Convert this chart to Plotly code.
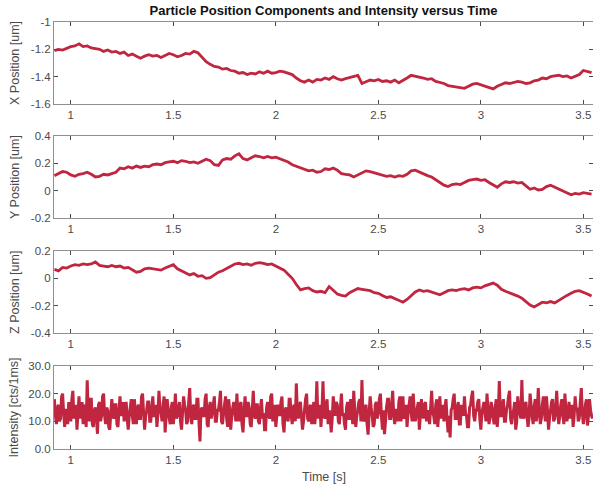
import plotly.graph_objects as go

# ---------------- data ----------------
T0_POS = 0.92
DT_POS = 0.02
x_pos = [-1.21, -1.20, -1.205, -1.19, -1.18, -1.175, -1.16, -1.18, -1.175, -1.19,
         -1.195, -1.20, -1.215, -1.205, -1.22, -1.215, -1.23, -1.22, -1.245, -1.235,
         -1.25, -1.265, -1.25, -1.24, -1.25, -1.245, -1.26, -1.245, -1.23, -1.24,
         -1.255, -1.245, -1.23, -1.235, -1.215, -1.225, -1.26, -1.29, -1.31, -1.325,
         -1.33, -1.345, -1.34, -1.355, -1.36, -1.375, -1.37, -1.385, -1.375, -1.38,
         -1.365, -1.375, -1.36, -1.375, -1.37, -1.36, -1.365, -1.375, -1.385, -1.41,
         -1.43, -1.44, -1.425, -1.44, -1.42, -1.425, -1.41, -1.42, -1.40, -1.415,
         -1.425, -1.415, -1.405, -1.395, -1.39, -1.45, -1.435, -1.425, -1.43, -1.42,
         -1.435, -1.43, -1.44, -1.425, -1.445, -1.43, -1.41, -1.39, -1.395, -1.40,
         -1.41, -1.42, -1.415, -1.435, -1.44, -1.45, -1.465, -1.47, -1.475, -1.48,
         -1.485, -1.47, -1.455, -1.45, -1.46, -1.465, -1.475, -1.49, -1.47, -1.455,
         -1.445, -1.45, -1.44, -1.435, -1.44, -1.45, -1.445, -1.43, -1.425, -1.41,
         -1.415, -1.40, -1.395, -1.39, -1.40, -1.395, -1.41, -1.40, -1.385, -1.355,
         -1.36, -1.37]

y_pos = [0.11, 0.125, 0.14, 0.135, 0.115, 0.105, 0.12, 0.125, 0.135, 0.12,
         0.10, 0.105, 0.12, 0.115, 0.125, 0.135, 0.165, 0.16, 0.175, 0.165,
         0.18, 0.17, 0.18, 0.175, 0.19, 0.195, 0.19, 0.205, 0.21, 0.215,
         0.205, 0.22, 0.215, 0.205, 0.21, 0.20, 0.215, 0.23, 0.22, 0.19,
         0.185, 0.225, 0.235, 0.23, 0.255, 0.27, 0.235, 0.225, 0.24, 0.255,
         0.25, 0.24, 0.25, 0.24, 0.245, 0.235, 0.225, 0.21, 0.19, 0.18,
         0.165, 0.155, 0.145, 0.15, 0.135, 0.14, 0.16, 0.155, 0.165, 0.15,
         0.125, 0.12, 0.115, 0.10, 0.115, 0.13, 0.145, 0.14, 0.13, 0.125,
         0.115, 0.105, 0.11, 0.10, 0.11, 0.105, 0.12, 0.145, 0.15, 0.135,
         0.12, 0.11, 0.10, 0.08, 0.065, 0.04, 0.03, 0.045, 0.05, 0.045,
         0.06, 0.075, 0.08, 0.085, 0.075, 0.08, 0.06, 0.045, 0.025, 0.05,
         0.065, 0.06, 0.065, 0.055, 0.06, 0.035, 0.01, 0.02, 0.005, 0.01,
         0.03, 0.04, 0.025, 0.01, 0.0, -0.015, -0.03, -0.02, -0.025, -0.015,
         -0.02, -0.025]

z_pos = [0.065, 0.055, 0.08, 0.075, 0.09, 0.10, 0.095, 0.105, 0.10, 0.105,
         0.12, 0.095, 0.09, 0.085, 0.095, 0.085, 0.09, 0.075, 0.08, 0.06,
         0.045, 0.05, 0.07, 0.075, 0.07, 0.065, 0.06, 0.075, 0.09, 0.10,
         0.07, 0.055, 0.04, 0.025, 0.035, 0.015, 0.02, 0.0, 0.005, 0.025,
         0.045, 0.055, 0.07, 0.09, 0.105, 0.11, 0.10, 0.105, 0.095, 0.11,
         0.115, 0.11, 0.10, 0.105, 0.09, 0.075, 0.06, 0.03, 0.0, -0.045,
         -0.085, -0.075, -0.07, -0.09, -0.10, -0.095, -0.105, -0.06, -0.09, -0.115,
         -0.125, -0.13, -0.105, -0.09, -0.075, -0.08, -0.085, -0.09, -0.105, -0.11,
         -0.125, -0.14, -0.135, -0.15, -0.16, -0.175, -0.155, -0.13, -0.10, -0.085,
         -0.095, -0.09, -0.10, -0.11, -0.12, -0.105, -0.09, -0.085, -0.09, -0.08,
         -0.075, -0.085, -0.07, -0.065, -0.07, -0.055, -0.045, -0.035, -0.05, -0.08,
         -0.095, -0.105, -0.12, -0.13, -0.145, -0.17, -0.195, -0.21, -0.19, -0.175,
         -0.18, -0.17, -0.18, -0.16, -0.14, -0.125, -0.11, -0.095, -0.09, -0.10,
         -0.115, -0.13]

T0_INT = 0.92
DT_INT = 0.005
intensity = [
    18, 12, 9, 15, 16, 10, 11, 19, 20, 13, 8, 14, 14, 9, 17, 12, 10, 18, 21, 11,
    12, 16, 7, 13, 19, 11, 13, 17, 9, 15, 16, 8, 24.8, 13, 10, 18, 18, 9, 8, 14,
    15, 11, 5.5, 16, 17, 10, 12, 19, 20, 12, 9, 15, 14, 8, 7, 13, 18, 12, 11, 16,
    16, 9, 8, 14, 19, 12, 13, 17, 10, 15, 17, 11, 7, 12, 15, 18, 12, 9, 18, 13,
    9, 15, 16, 11, 11, 19, 20, 13, 7, 12, 14, 17, 17, 10, 10, 15, 19, 12, 12, 16,
    8, 13, 21, 14, 13, 10, 16, 19, 6, 12, 18, 14, 11, 9, 15, 17, 9, 13, 20, 11,
    12, 15, 17, 10, 7, 13, 19, 16, 14, 9, 10, 17, 22, 12, 9, 15, 16, 11, 11, 18,
    18, 10, 2.7, 14, 15, 12, 12, 18, 20, 9, 8, 15, 17, 11, 13, 16, 19, 10, 10, 14,
    14, 17, 21, 10, 9, 13, 16, 19, 11, 8, 18, 14, 7, 12, 15, 17, 13, 10, 20, 13,
    10, 16, 17, 9, 6, 14, 19, 12, 12, 17, 15, 9, 8, 14, 21, 12, 11, 16, 16, 10,
    9, 15, 18, 11, 13, 7, 7, 15, 17, 12, 11, 19, 20, 10, 14, 16, 8, 12, 16, 13,
    12, 17, 19, 9, 6, 14, 15, 11, 10, 18, 18, 12, 9, 15, 16, 10, 23.7, 13, 11, 16,
    17, 12, 7, 10, 14, 18, 20, 11, 10, 15, 16, 9, 12, 17, 9, 13, 24.5, 11, 13, 16,
    8, 14, 24.5, 12, 11, 16, 18, 9, 14, 12, 6, 11, 19, 15, 12, 17, 16, 10, 9, 15,
    20, 12, 13, 9, 7, 15, 17, 11, 11, 18, 15, 9, 21, 14, 8, 12, 14, 17, 18, 10,
    24.9, 11, 10, 15, 16, 9, 5.2, 13, 19, 15, 12, 8, 9, 16, 17, 11, 13, 18, 20, 12,
    7, 14, 5.4, 10, 15, 18, 18, 11, 11, 16, 21, 12, 9, 14, 14, 10, 17, 19, 10, 13,
    19, 11, 12, 16, 8, 13, 16, 19, 13, 10, 20, 14, 10, 12, 15, 17, 7, 12, 18, 14,
    11, 16, 17, 10, 14, 12, 9, 15, 21, 13, 12, 9, 16, 18, 8, 13, 19, 11, 13, 16,
    10, 15, 18, 11, 6, 12, 4.2, 14, 15, 18, 20, 11, 11, 15, 17, 9, 9, 16, 14, 12,
    19, 13, 12, 8, 8, 15, 16, 19, 21, 12, 10, 14, 14, 17, 18, 11, 7, 13, 15, 17,
    13, 10, 20, 14, 9, 12, 17, 15, 11, 9, 15, 18, 8, 13, 24.6, 12, 12, 16, 18, 10,
    10, 14, 16, 19, 21, 11, 9, 13, 14, 17, 7, 10, 19, 15, 13, 11, 24.9, 12, 11, 16,
    17, 12, 8, 11, 20, 16, 12, 9, 15, 18, 10, 13, 22, 14, 9, 11, 16, 19, 13, 10,
    19, 14, 7, 11, 14, 17, 18, 10, 11, 15, 21, 13, 9, 12, 16, 18, 12, 9, 20, 14,
    10, 13, 17, 11, 13, 16, 8, 12, 19, 14, 15, 10, 11, 17, 22, 13, 9, 12, 16, 18,
    8.5, 12, 18, 14, 12, 11]

x_ticks = [1, 1.5, 2, 2.5, 3, 3.5]
x_ticktext = ["1", "1.5", "2", "2.5", "3", "3.5"]
yx_ticks = [-1.6, -1.4, -1.2, -1.0]
yx_text = ["-1.6", "-1.4", "-1.2", "-1"]
yy_ticks = [-0.2, 0.0, 0.2, 0.4]
yy_text = ["-0.2", "0", "0.2", "0.4"]
yz_ticks = [-0.4, -0.2, 0.0, 0.2]
yz_text = ["-0.4", "-0.2", "0", "0.2"]
yi_ticks = [0, 10, 20, 30]
yi_text = ["0.0", "10.0", "20.0", "30.0"]

title_text = "Particle Position Components and Intensity versus Time"
y_titles = ["X Position [um]", "Y Position [um]", "Z Position [um]", "Intensity [cts/1ms]"]
x_title = "Time [s]"

# ---------------- figure ----------------
t_pos_x = [T0_POS + DT_POS * i for i in range(len(x_pos))]
t_pos_y = [T0_POS + DT_POS * i for i in range(len(y_pos))]
t_pos_z = [T0_POS + DT_POS * i for i in range(len(z_pos))]
t_int = [T0_INT + DT_INT * i for i in range(len(intensity))]

LINE = "#C0263F"
FONT = "Liberation Sans, Arial, sans-serif"
AX_LINE = "#8f8f8f"
TICK_COL = "#4a4a4a"

fig = go.Figure()
fig.add_trace(go.Scatter(x=t_pos_x, y=x_pos, mode="lines", line=dict(color=LINE, width=2.8),
                         xaxis="x", yaxis="y"))
fig.add_trace(go.Scatter(x=t_pos_y, y=y_pos, mode="lines", line=dict(color=LINE, width=2.8),
                         xaxis="x2", yaxis="y2"))
fig.add_trace(go.Scatter(x=t_pos_z, y=z_pos, mode="lines", line=dict(color=LINE, width=2.8),
                         xaxis="x3", yaxis="y3"))
fig.add_trace(go.Scatter(x=t_int, y=intensity, mode="lines",
                         line=dict(color=LINE, width=3.0, simplify=False),
                         xaxis="x4", yaxis="y4"))

XR = [0.918, 3.547]
domains = [[0.808, 1.0], [0.541, 0.733], [0.2717, 0.4637], [0.0, 0.1944]]
yranges = [[-1.6, -1.0], [-0.2, 0.4], [-0.4, 0.2], [0, 30]]
yticks = [(yx_ticks, yx_text), (yy_ticks, yy_text), (yz_ticks, yz_text), (yi_ticks, yi_text)]

common = dict(showline=True, linecolor=AX_LINE, linewidth=1, mirror="ticks",
              ticks="inside", ticklen=4, tickcolor=TICK_COL, tickwidth=1,
              showgrid=False, zeroline=False,
              tickfont=dict(family=FONT, size=11.5, color=TICK_COL))

layout = dict(
    width=593, height=484,
    margin=dict(l=54, r=0, t=22, b=35),
    paper_bgcolor="white", plot_bgcolor="white",
    showlegend=False,
    title=dict(text="<b>" + title_text + "</b>", x=0.5, xref="paper", xanchor="center",
               y=1 - 10 / 484, yref="container", yanchor="middle",
               font=dict(family=FONT, size=13, color="#111111")),
    annotations=[],
)

for i in range(4):
    xa = "xaxis" if i == 0 else f"xaxis{i+1}"
    ya = "yaxis" if i == 0 else f"yaxis{i+1}"
    yid = "y" if i == 0 else f"y{i+1}"
    xid = "x" if i == 0 else f"x{i+1}"
    layout[xa] = dict(common, domain=[0, 1], anchor=yid, range=XR,
                      tickvals=x_ticks, ticktext=x_ticktext)
    layout[ya] = dict(common, domain=domains[i], anchor=xid, range=yranges[i],
                      tickvals=yticks[i][0], ticktext=yticks[i][1])
    layout["annotations"].append(dict(
        text=y_titles[i], textangle=-90, xref="paper", yref="paper",
        x=-0.0724, y=(domains[i][0] + domains[i][1]) / 2,
        xanchor="center", yanchor="middle", showarrow=False,
        font=dict(family=FONT, size=12.5, color=TICK_COL)))

layout["annotations"].append(dict(
    text=x_title, xref="paper", yref="paper", x=0.5, y=-0.0656,
    xanchor="center", yanchor="middle", showarrow=False,
    font=dict(family=FONT, size=12.5, color=TICK_COL)))

fig.update_layout(layout)
fig.write_html("out.html")
